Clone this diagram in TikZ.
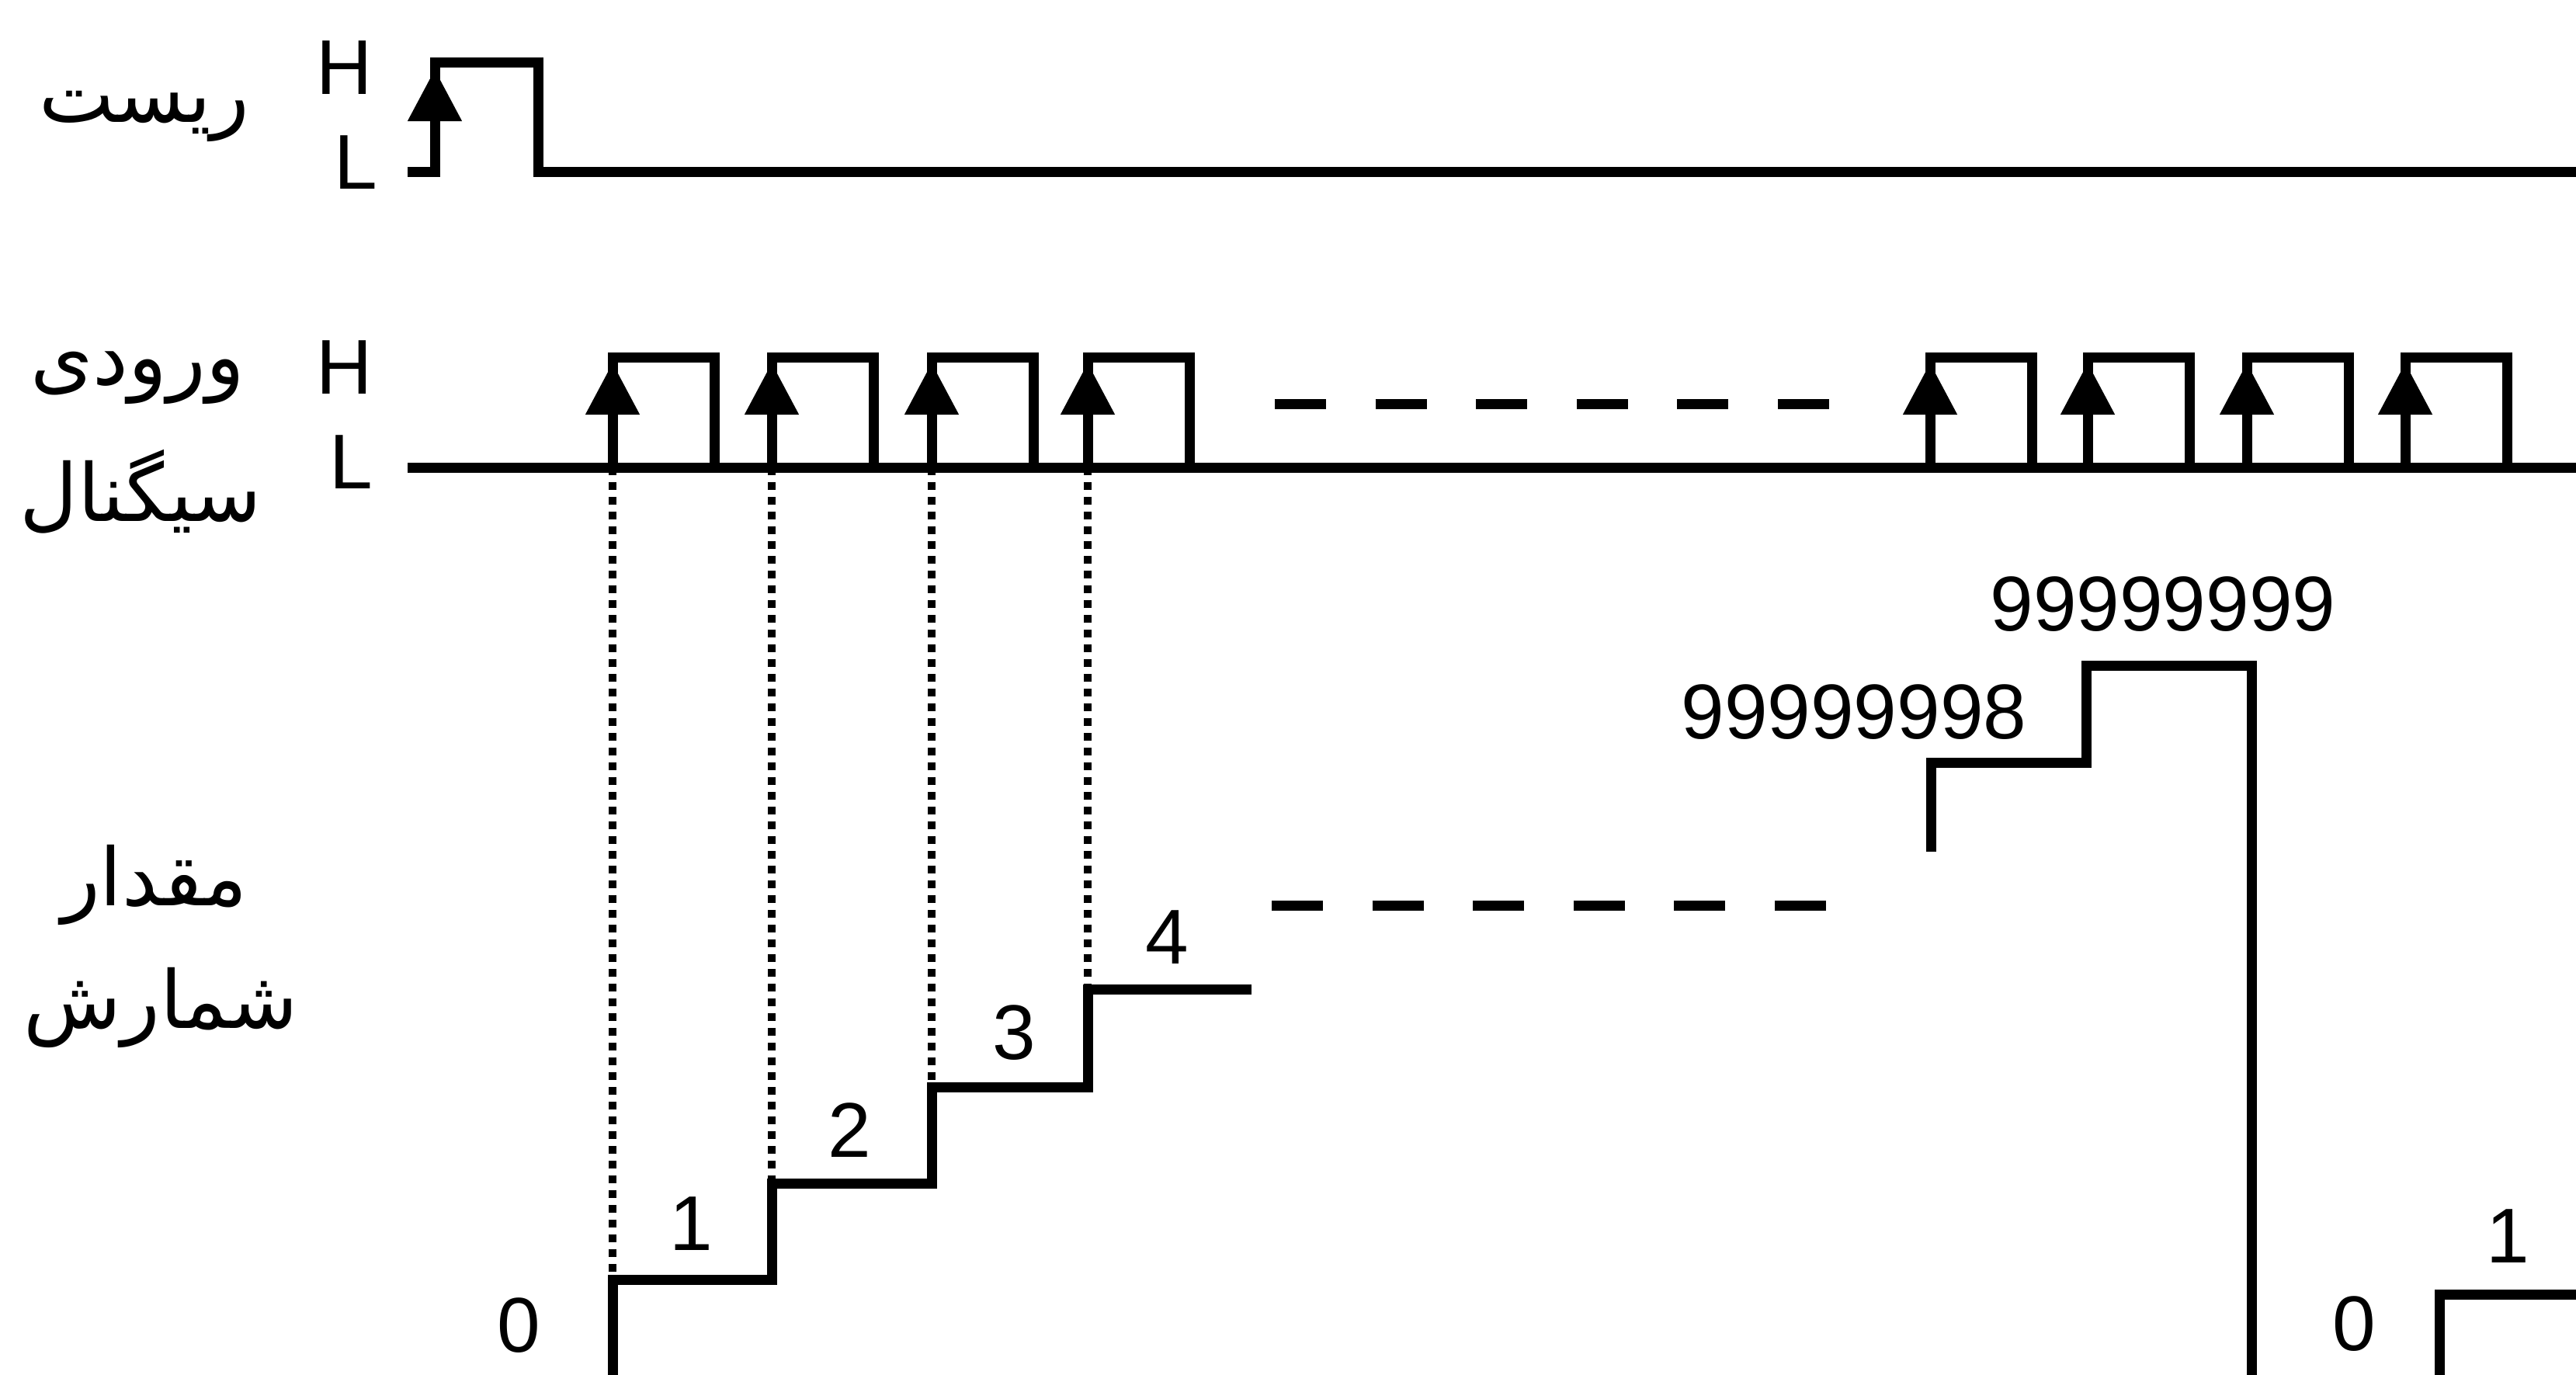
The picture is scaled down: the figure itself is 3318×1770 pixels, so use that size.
\documentclass[tikz,border=0pt]{standalone}
\usepackage{fontspec}
\setmainfont{Liberation Sans}
\newfontfamily\arabicfont[Script=Arabic]{DejaVu Sans}
\TeXXeTstate=1
\usetikzlibrary{arrows.meta}
\tikzset{
  sig/.style={line width=13pt, line join=miter},
  edgearrow/.style={line width=13pt, -{Triangle[width=70pt,length=66pt,line width=1pt]}},
  dashline/.style={line width=13pt, dash pattern=on 66pt off 63.6pt},
  dotline/.style={line width=10pt, dash pattern=on 10pt off 9pt},
  lvl/.style={inner sep=0pt, font=\fontsize{100}{110}\selectfont},
  fa/.style={inner sep=0pt, font=\fontsize{103}{120}\selectfont\arabicfont}
}
\begin{document}
\begin{tikzpicture}[x=1pt,y=-1pt]
\useasboundingbox (0,0) rectangle (3318,1770);
% ---- labels (left) ----
\node[fa] (reset) at (186,150) {\beginR ریست\endR};
\node[fa] (in1) at (177,487) {\beginR ورودی\endR};
\node[fa] (in2) at (181,633) {\beginR سیگنال\endR};
\node[fa] (cnt1) at (199,1140) {\beginR مقدار\endR};
\node[fa] (cnt2) at (207,1298) {\beginR شمارش\endR};
\node[lvl] (rH) at (444,87) {H};
\node[lvl] (rL) at (458,209) {L};
\node[lvl] (sH) at (444,473) {H};
\node[lvl] (sL) at (452,595) {L};
% ---- reset row ----
\draw[sig] (525,221) -- (560,221) -- (560,80) -- (693,80) -- (693,221) -- (3330,221);
\draw[edgearrow] (560,221) -- (560,90);
% ---- signal row ----
\draw[sig] (525,602) -- (3330,602);
\foreach \r in {789,994,1200,1401,2486,2689,2894,3098}{
  \pgfmathsetmacro{\f}{\r+131}
  \draw[sig] (\r,602) -- (\r,460) -- (\f,460) -- (\f,602);
  \draw[edgearrow] (\r,602) -- (\r,468);
}
\draw[dashline] (1642,520) -- (2356,520);
% ---- dotted projections ----
\draw[dotline] (789,602) -- (789,1646);
\draw[dotline] (994,602) -- (994,1522);
\draw[dotline] (1200,602) -- (1200,1398);
\draw[dotline] (1401,602) -- (1401,1272);
% ---- count staircase ----
\draw[sig] (789,1790) -- (789,1648) -- (994,1648) -- (994,1524) -- (1200,1524) -- (1200,1400) -- (1401,1400) -- (1401,1274) -- (1612,1274);
\draw[dashline] (1638,1166) -- (2352,1166);
\draw[sig] (2487,1097) -- (2487,982) -- (2687,982) -- (2687,857) -- (2900,857) -- (2900,1790);
\draw[sig] (3142,1790) -- (3142,1667) -- (3330,1667);
\node[lvl] (c0) at (668,1707) {0};
\node[lvl] (c1) at (890,1576) {1};
\node[lvl] (c2) at (1094,1456) {2};
\node[lvl] (c3) at (1306,1330) {3};
\node[lvl] (c4) at (1503,1207) {4};
\node[lvl] (c98) at (2388,917) {99999998};
\node[lvl] (c99) at (2786,778) {99999999};
\node[lvl] (d0) at (3032,1705) {0};
\node[lvl] (d1) at (3230,1592) {1};
\end{tikzpicture}
\end{document}
